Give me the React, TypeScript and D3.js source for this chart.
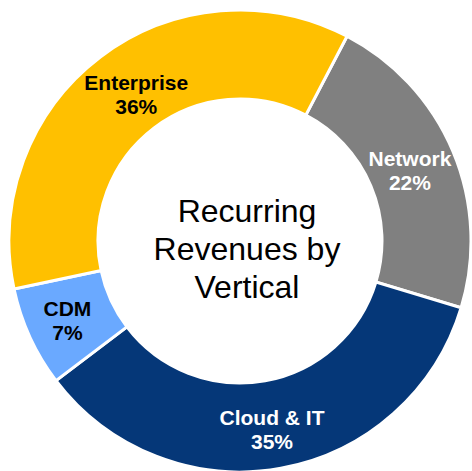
import React, { useEffect, useRef } from "react";
import * as d3 from "d3";

const categories = ["Network", "Cloud & IT", "CDM", "Enterprise"];
const shares = [22, 35, 7, 36];
const colors = ["#808080", "#053778", "#6AA9FF", "#FFC000"];
const labelColors = ["#ffffff", "#ffffff", "#000000", "#000000"];
const centerLines = ["Recurring", "Revenues by", "Vertical"];

const W = 472;
const H = 471;

// small nudges of the data labels away from the arc centroid
const labelNudge: [number, number][] = [[-2, 2], [-1, 5], [-3, 2], [9, 3]];

export default function App() {
  const ref = useRef<SVGSVGElement>(null);

  useEffect(() => {
    const svg = d3.select(ref.current);
    svg.selectAll("*").remove();

    const cx = 240, cy = 241;
    const outer = 231, inner = 142;
    const start = (27.6 * Math.PI) / 180;

    const g = svg.append("g").attr("transform", `translate(${cx},${cy})`);

    const pie = d3.pie<number>()
      .sort(null)
      .value(d => d)
      .startAngle(start)
      .endAngle(start + 2 * Math.PI);

    const arcs = pie(shares);
    const arc = d3.arc<d3.PieArcDatum<number>>()
      .innerRadius(inner)
      .outerRadius(outer);

    g.selectAll("path.slice")
      .data(arcs)
      .enter()
      .append("path")
      .attr("class", "slice")
      .attr("d", arc)
      .attr("fill", (d, i) => colors[i])
      .attr("stroke", "#fff")
      .attr("stroke-width", 3);

    const labels = g.selectAll("text.lab")
      .data(arcs)
      .enter()
      .append("text")
      .attr("class", "lab")
      .attr("text-anchor", "middle")
      .attr("font-family", "Liberation Sans, Arial, sans-serif")
      .attr("font-weight", "bold")
      .attr("font-size", 21)
      .attr("fill", (d, i) => labelColors[i])
      .attr("transform", (d, i) => {
        const [x, y] = arc.centroid(d);
        return `translate(${x + labelNudge[i][0]},${y + labelNudge[i][1]})`;
      });

    labels.append("tspan")
      .attr("x", 0)
      .attr("y", -5)
      .text((d, i) => categories[i]);
    labels.append("tspan")
      .attr("x", 0)
      .attr("y", 19)
      .text(d => `${d.data}%`);

    const center = g.append("text")
      .attr("text-anchor", "middle")
      .attr("font-family", "Liberation Sans, Arial, sans-serif")
      .attr("font-size", 32)
      .attr("fill", "#000");
    center.selectAll("tspan")
      .data(centerLines)
      .enter()
      .append("tspan")
      .attr("x", 7)
      .attr("y", (d, i) => -19 + i * 38)
      .text(d => d);
  }, []);

  return (
    <svg
      ref={ref}
      width={W}
      height={H}
      style={{ position: "absolute", left: 0, top: 0, background: "#fff" }}
    />
  );
}
